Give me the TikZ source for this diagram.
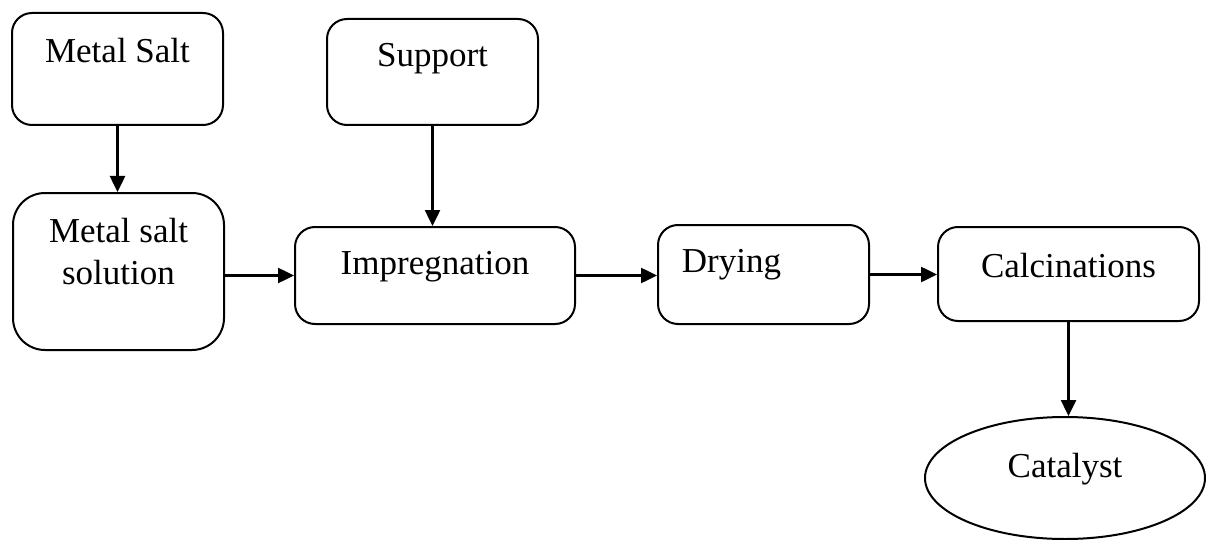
\documentclass[tikz,border=0pt]{standalone}
\usepackage{fontspec}
\setmainfont{Liberation Serif}
\usetikzlibrary{arrows.meta,shapes.geometric}
\tikzset{
  stepbox/.style={draw, line width=2pt, rounded corners=20pt, inner sep=0pt},
  flow/.style={line width=2.5pt, -{Triangle[length=16pt,width=15pt]}},
  txt/.style={font=\fontsize{35}{42}\selectfont, align=center}
}
\begin{document}
\begin{tikzpicture}[x=1pt, y=-1pt]
    \useasboundingbox (0,0) rectangle (1206,540);
    % boxes
    \node[stepbox, minimum width=211pt, minimum height=112pt,
          label={[txt, anchor=center, yshift=-39pt]north:Metal Salt}] (salt) at (117.5, 69) {};
    \node[stepbox, rounded corners=32pt, minimum width=211pt, minimum height=157pt,
          label={[txt, anchor=center, yshift=-60pt]north:Metal salt\\solution}] (soln) at (118.5, 271.5) {};
    \node[stepbox, minimum width=211pt, minimum height=106pt,
          label={[txt, anchor=center, yshift=-41pt]north:Support}] (support) at (432.5, 72) {};
    \node[stepbox, minimum width=280pt, minimum height=97pt,
          label={[txt, anchor=center, yshift=-41pt]north:Impregnation}] (impreg) at (435, 275.5) {};
    \node[stepbox, minimum width=211pt, minimum height=99pt,
          label={[txt, anchor=center, xshift=-32pt, yshift=-41pt]north:Drying}] (dry) at (763.5, 274.5) {};
    \node[stepbox, minimum width=261pt, minimum height=94pt,
          label={[txt, anchor=center, yshift=-40pt]north:Calcinations}] (calc) at (1068.5, 274) {};
    \node[draw, line width=2pt, ellipse, inner sep=0pt, minimum width=280pt, minimum height=122pt,
          label={[txt, anchor=center, yshift=9pt]center:Catalyst}] (cat) at (1065, 478) {};
    % arrows
    \draw[flow] (salt.south) -- (salt.south |- soln.north);
    \draw[flow] (support.south) -- (support.south |- impreg.north);
    \draw[flow] (soln.east |- impreg.west) -- (impreg.west);
    \draw[flow] (impreg.east) -- (dry.west |- impreg.east);
    \draw[flow] (dry.east) -- (calc.west |- dry.east);
    \draw[flow] (calc.south) -- (calc.south |- cat.north);
\end{tikzpicture}
\end{document}
